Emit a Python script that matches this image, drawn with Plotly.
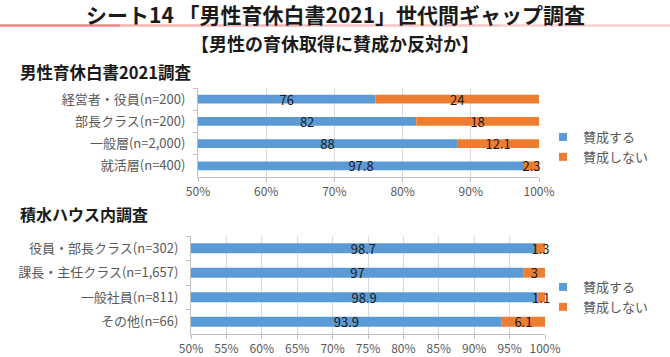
import plotly.graph_objects as go

# ---- data ----
cats_top = ["経営者・役員(n=200)", "部長クラス(n=200)", "一般層(n=2,000)", "就活層(n=400)"]
agree_top = [76, 82, 88, 97.8]
disagree_top = [24, 18, 12.1, 2.3]

cats_bot = ["役員・部長クラス(n=302)", "課長・主任クラス(n=1,657)", "一般社員(n=811)", "その他(n=66)"]
agree_bot = [98.7, 97, 98.9, 93.9]
disagree_bot = [1.3, 3, 1.1, 6.1]

ticks_top = [50, 60, 70, 80, 90, 100]
ticks_bot = [50, 55, 60, 65, 70, 75, 80, 85, 90, 95, 100]
series_names = ["賛成する", "賛成しない"]
AXIS_MIN, AXIS_MAX = 50, 100

BLUE = "#5B9BD5"
ORANGE = "#ED7D31"
FONT = "Noto Sans CJK JP"
GRAY = "#595959"

W, H = 670, 357

fig = go.Figure()

def add_pair(cats, a, d, xa, ya, legend):
    common = dict(orientation="h", textposition="inside", insidetextanchor="middle",
                  textangle=0, constraintext="none",
                  textfont=dict(color="#1a1a1a", size=13, family=FONT),
                  xaxis=xa, yaxis=ya, showlegend=False, cliponaxis=False)
    fig.add_trace(go.Bar(
        y=cats, x=[v - AXIS_MIN for v in a], base=AXIS_MIN,
        name=series_names[0], marker=dict(color=BLUE, line=dict(width=0)),
        text=[str(v) for v in a], **common))
    # segment drawn only up to the 100% edge of the axis (the chart clips there)
    fig.add_trace(go.Bar(
        y=cats, x=[min(dv, AXIS_MAX - av) for av, dv in zip(a, d)], base=a,
        name=series_names[1], marker=dict(color=ORANGE, line=dict(width=0)),
        text=[str(v) for v in d], **common))
    # legend entries (small square swatches as in the reference)
    for nm, col in zip(series_names, [BLUE, ORANGE]):
        fig.add_trace(go.Scatter(
            x=[None], y=[None], mode="markers", name=nm,
            marker=dict(symbol="square", size=8, color=col),
            xaxis=xa, yaxis=ya, legend=legend, showlegend=True))

add_pair(cats_top, agree_top, disagree_top, "x", "y", "legend")
add_pair(cats_bot, agree_bot, disagree_bot, "x2", "y2", "legend2")

def px_x(p):
    return p / W

def px_y(p):
    return 1 - p / H

xaxis_common = dict(
    showgrid=True, gridcolor="#d9d9d9", gridwidth=1,
    showline=True, linecolor="#bfbfbf", linewidth=1,
    ticks="outside", ticklen=4, tickcolor="#bfbfbf",
    tickfont=dict(size=12, color=GRAY, family=FONT),
    zeroline=False, fixedrange=True, automargin=False,
)
yaxis_common = dict(
    showgrid=False, showline=True, linecolor="#bfbfbf", linewidth=1,
    ticks="outside", ticklen=4, tickcolor="#bfbfbf", tickson="boundaries",
    tickfont=dict(size=13, color=GRAY, family=FONT),
    autorange="reversed", ticklabelstandoff=9, fixedrange=True, automargin=False,
)

legend_common = dict(xanchor="left", yanchor="top",
                     font=dict(size=13, color=GRAY, family=FONT), itemwidth=30,
                     bgcolor="rgba(0,0,0,0)", tracegroupgap=0)

fig.update_layout(
    width=W, height=H, autosize=False,
    margin=dict(l=0, r=0, t=0, b=0, pad=0, autoexpand=False),
    paper_bgcolor="white", plot_bgcolor="white",
    barmode="overlay", bargap=0.6,
    font=dict(family=FONT, color=GRAY),
    xaxis=dict(domain=[px_x(198), px_x(539)], range=[ticks_top[0], ticks_top[-1]],
               tickvals=ticks_top, ticktext=[f"{t}%" for t in ticks_top],
               anchor="y", **xaxis_common),
    yaxis=dict(domain=[px_y(177), px_y(88)], anchor="x", **yaxis_common),
    xaxis2=dict(domain=[px_x(191), px_x(545)], range=[ticks_bot[0], ticks_bot[-1]],
                tickvals=ticks_bot, ticktext=[f"{t}%" for t in ticks_bot],
                anchor="y2", **xaxis_common),
    yaxis2=dict(domain=[px_y(334), px_y(236)], anchor="x2", **yaxis_common),
    legend=dict(x=px_x(543), y=px_y(122), **legend_common),
    legend2=dict(x=px_x(543), y=px_y(272), **legend_common),
    showlegend=True,
)

# titles
fig.add_annotation(text="<b>シート14 「男性育休白書2021」世代間ギャップ調査</b>",
                   x=0.5, y=px_y(14), xref="paper", yref="paper", showarrow=False,
                   font=dict(size=21, color="#1a1a1a", family=FONT), xanchor="center", yanchor="middle")
fig.add_annotation(text="<b>【男性の育休取得に賛成か反対か】</b>",
                   x=0.5, y=px_y(43), xref="paper", yref="paper", showarrow=False,
                   font=dict(size=18, color="#1a1a1a", family=FONT), xanchor="center", yanchor="middle")
fig.add_annotation(text="<b>男性育休白書2021調査</b>",
                   x=px_x(18), y=px_y(72), xref="paper", yref="paper", showarrow=False,
                   font=dict(size=16.5, color="#1a1a1a", family=FONT), xanchor="left", yanchor="middle")
fig.add_annotation(text="<b>積水ハウス内調査</b>",
                   x=px_x(18), y=px_y(214), xref="paper", yref="paper", showarrow=False,
                   font=dict(size=16, color="#1a1a1a", family=FONT), xanchor="left", yanchor="middle")

# decorative line under the title
segs = [(0, 120, "#ef8585"), (120, 300, "#f6b4b4"), (300, 500, "#f8c4c4"), (500, 670, "#fad0d0")]
for x0, x1, c in segs:
    fig.add_shape(type="line", xref="paper", yref="paper",
                  x0=px_x(x0), x1=px_x(x1), y0=px_y(25.5), y1=px_y(25.5),
                  line=dict(color=c, width=2.5))

fig.write_html("out.html", config={"displayModeBar": False},
               post_script="document.body.style.margin='0';document.body.style.overflow='hidden';")
